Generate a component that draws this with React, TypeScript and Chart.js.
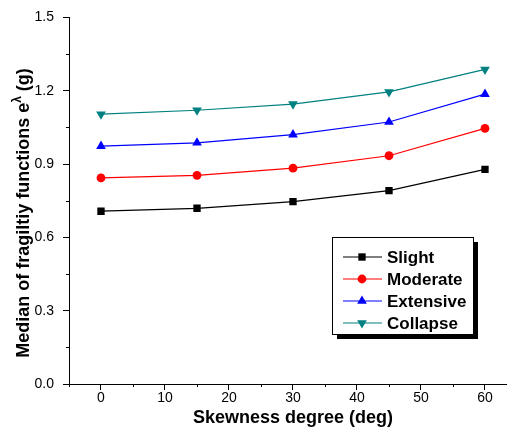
import React, { useEffect, useRef } from "react";
import { Chart, registerables } from "chart.js";

Chart.register(...registerables);

const xValues = [0, 15, 30, 45, 60];
const slight = [0.707, 0.719, 0.746, 0.791, 0.878];
const moderate = [0.843, 0.854, 0.883, 0.934, 1.046];
const extensive = [0.973, 0.987, 1.02, 1.072, 1.186];
const collapse = [1.104, 1.12, 1.145, 1.195, 1.287];
const seriesNames = ["Slight", "Moderate", "Extensive", "Collapse"];
const xTicks = [0, 10, 20, 30, 40, 50, 60];
const yTicks = [0, 0.3, 0.6, 0.9, 1.2, 1.5];

const colors = ["#000000", "#ff0000", "#0000ff", "#008080"];
const styles = ["rect", "circle", "triangle", "triangle"];
const rotations = [0, 0, 0, 180];
const radii = [5.2, 4.4, 5.6, 5.6];

function drawMarker(ctx: CanvasRenderingContext2D, i: number, x: number, y: number) {
  ctx.fillStyle = colors[i];
  ctx.beginPath();
  const r = radii[i];
  if (styles[i] === "rect") {
    const s = Math.SQRT1_2 * r;
    ctx.rect(x - s, y - s, 2 * s, 2 * s);
  } else if (styles[i] === "circle") {
    ctx.arc(x, y, r, 0, Math.PI * 2);
  } else {
    let rad = (rotations[i] * Math.PI) / 180;
    ctx.moveTo(x + Math.sin(rad) * r, y - Math.cos(rad) * r);
    rad += (2 * Math.PI) / 3;
    ctx.lineTo(x + Math.sin(rad) * r, y - Math.cos(rad) * r);
    rad += (2 * Math.PI) / 3;
    ctx.lineTo(x + Math.sin(rad) * r, y - Math.cos(rad) * r);
    ctx.closePath();
  }
  ctx.fill();
}

const decorPlugin = {
  id: "decor",
  afterDraw(chart: any) {
    const ctx: CanvasRenderingContext2D = chart.ctx;
    const xs = chart.scales.x;
    const ys = chart.scales.y;
    const area = chart.chartArea;
    ctx.save();
    ctx.strokeStyle = "#000";
    ctx.lineWidth = 1;
    // minor ticks
    for (let v = -5; v <= 65; v += 10) {
      const px = Math.round(xs.getPixelForValue(v)) + 0.5;
      if (px < area.left - 1 || px > area.right) continue;
      ctx.beginPath();
      ctx.moveTo(px, area.bottom);
      ctx.lineTo(px, area.bottom + 3);
      ctx.stroke();
    }
    for (let v = 0.15; v < 1.5; v += 0.3) {
      const py = Math.round(ys.getPixelForValue(v)) + 0.5;
      ctx.beginPath();
      ctx.moveTo(area.left, py);
      ctx.lineTo(area.left - 3, py);
      ctx.stroke();
    }
    // x title
    ctx.fillStyle = "#000";
    ctx.font = "bold 18px 'Liberation Sans', Arial, sans-serif";
    ctx.textAlign = "center";
    ctx.textBaseline = "middle";
    ctx.fillText("Skewness degree (deg)", 293, 418);
    // y title
    ctx.save();
    ctx.translate(23, 213);
    ctx.rotate(-Math.PI / 2);
    const p1 = "Median of fragiltiy functions e";
    const p2 = "\u03bb";
    const p3 = " (g)";
    const bigFont = "bold 18px 'Liberation Sans', Arial, sans-serif";
    const smallFont = "bold 12px 'Liberation Sans', Arial, sans-serif";
    ctx.font = bigFont;
    const w1 = ctx.measureText(p1).width;
    const w3 = ctx.measureText(p3).width;
    ctx.font = smallFont;
    const w2 = ctx.measureText(p2).width;
    const total = w1 + w2 + w3;
    let cx = -total / 2;
    ctx.textAlign = "left";
    ctx.textBaseline = "alphabetic";
    ctx.font = bigFont;
    ctx.fillText(p1, cx, 6);
    cx += w1;
    ctx.font = smallFont;
    ctx.fillText(p2, cx, -2);
    cx += w2;
    ctx.font = bigFont;
    ctx.fillText(p3, cx, 6);
    ctx.restore();
    // legend
    const bx = 332, by = 237, bw = 141, bh = 97;
    ctx.fillStyle = "#000";
    ctx.fillRect(bx + 5, by + 5, bw, bh);
    ctx.fillStyle = "#fff";
    ctx.fillRect(bx, by, bw, bh);
    ctx.strokeStyle = "#000";
    ctx.strokeRect(bx + 0.5, by + 0.5, bw, bh);
    const rows = [257, 279, 301, 323];
    ctx.font = "bold 17px 'Liberation Sans', Arial, sans-serif";
    ctx.textBaseline = "middle";
    ctx.textAlign = "left";
    for (let i = 0; i < 4; i++) {
      ctx.strokeStyle = colors[i];
      ctx.lineWidth = 1.2;
      ctx.beginPath();
      ctx.moveTo(343, rows[i]);
      ctx.lineTo(382, rows[i]);
      ctx.stroke();
      drawMarker(ctx, i, 362, rows[i]);
      ctx.fillStyle = "#000";
      ctx.fillText(seriesNames[i], 387, rows[i] + 1);
    }
    ctx.restore();
  },
};

export default function App() {
  const ref = useRef<HTMLCanvasElement>(null);
  useEffect(() => {
    if (!ref.current) return;
    const all = [slight, moderate, extensive, collapse];
    const chart = new Chart(ref.current, {
      type: "scatter",
      data: {
        datasets: all.map((vals, i) => ({
          label: seriesNames[i],
          data: xValues.map((x, j) => ({ x, y: vals[j] })),
          showLine: true,
          borderColor: colors[i],
          backgroundColor: colors[i],
          borderWidth: 1.2,
          pointStyle: styles[i] as any,
          rotation: rotations[i],
          pointRadius: radii[i],
          pointBorderWidth: 0,
          pointBackgroundColor: colors[i],
        })),
      },
      options: {
        animation: false,
        responsive: false,
        events: [],
        layout: { autoPadding: false, padding: { top: 16, right: 0, left: 0, bottom: 0 } },
        plugins: { legend: { display: false }, tooltip: { enabled: false } },
        scales: {
          x: {
            type: "linear",
            min: -5,
            max: 63.44,
            afterBuildTicks: (s: any) => {
              s.ticks = xTicks.map((v) => ({ value: v }));
            },
            afterFit: (s: any) => {
              s.height = 56;
            },
            ticks: {
              color: "#000",
              padding: 0,
              maxRotation: 0,
              font: { family: "'Liberation Sans', Arial, sans-serif", size: 14 },
              callback: (v: any) => String(v),
            },
            grid: { drawOnChartArea: false, drawTicks: true, tickLength: 6, color: "#000" },
            border: { display: true, color: "#000", width: 1 },
          },
          y: {
            type: "linear",
            min: 0,
            max: 1.5,
            afterBuildTicks: (s: any) => {
              s.ticks = yTicks.map((v) => ({ value: v }));
            },
            afterFit: (s: any) => {
              s.width = 69;
            },
            ticks: {
              color: "#000",
              padding: 9,
              font: { family: "'Liberation Sans', Arial, sans-serif", size: 14 },
              callback: (v: any) => Number(v).toFixed(1),
            },
            grid: { drawOnChartArea: false, drawTicks: true, tickLength: 6, color: "#000" },
            border: { display: true, color: "#000", width: 1 },
          },
        },
      },
      plugins: [decorPlugin],
    });
    return () => chart.destroy();
  }, []);
  return (
    <div style={{ position: "fixed", left: 0, top: 0, width: 507, height: 440, background: "#fff" }}>
      <canvas ref={ref} width={507} height={440} style={{ width: 507, height: 440 }} />
    </div>
  );
}
